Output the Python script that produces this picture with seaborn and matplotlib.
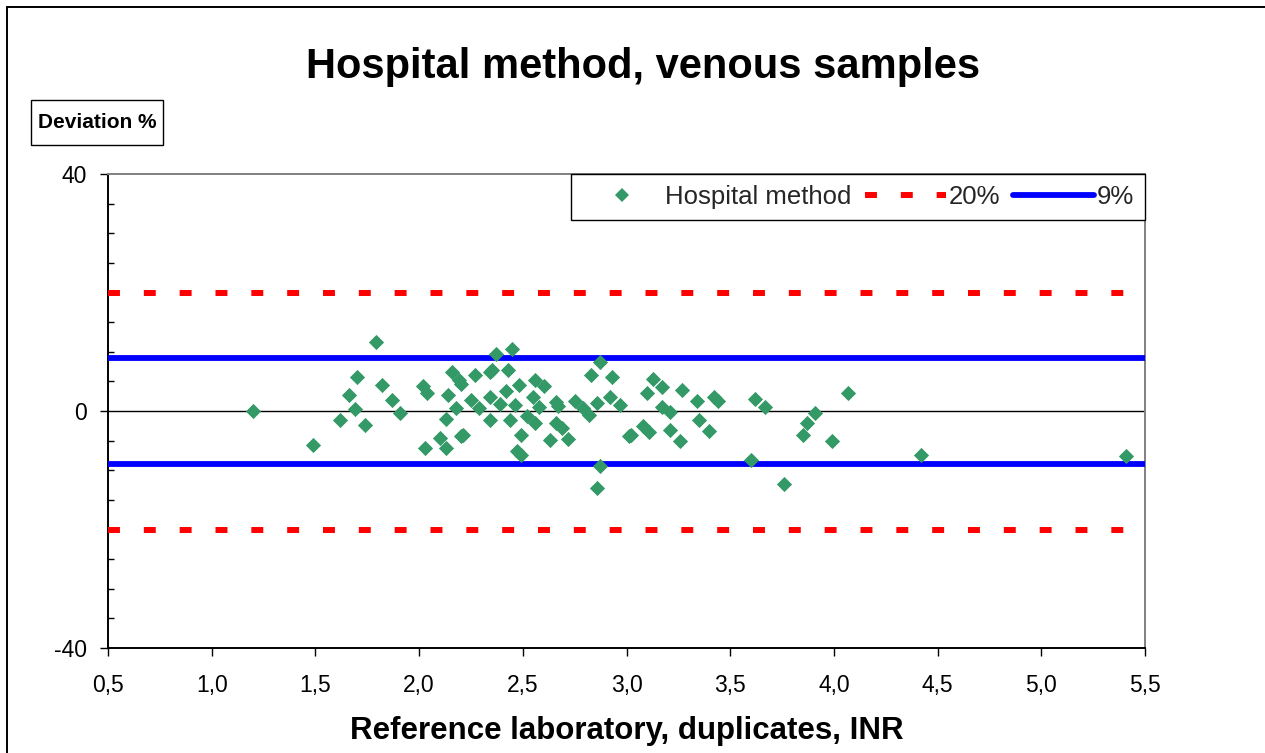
import matplotlib
matplotlib.use("Agg")
import matplotlib.pyplot as plt
import matplotlib.patches as mpatches
from matplotlib.lines import Line2D
from matplotlib.ticker import MultipleLocator, FixedLocator
import seaborn as sns
import pandas as pd

# ---------------- data ----------------
ref_inr = [1.20, 1.49, 1.79, 1.70, 1.66, 1.69, 1.62, 1.74, 1.82, 1.87, 1.91,
           2.02, 2.04, 2.16, 2.19, 2.20, 2.14, 2.18, 2.13, 2.10, 2.03, 2.13,
           2.20, 2.21, 2.37, 2.45, 2.27, 2.34, 2.35, 2.43, 2.25, 2.29, 2.34,
           2.39, 2.42, 2.48, 2.56, 2.60, 2.34, 2.44, 2.46, 2.55, 2.58, 2.52,
           2.56, 2.49, 2.47, 2.49, 2.66, 2.67, 2.66, 2.69, 2.63, 2.72, 2.75,
           2.79, 2.82, 2.86, 2.83, 2.87, 2.93, 2.92, 2.97, 2.87, 2.86, 3.02,
           3.01, 3.08, 3.11, 3.10, 3.13, 3.17, 3.17, 3.21, 3.21, 3.26, 3.27,
           3.34, 3.35, 3.40, 3.42, 3.44, 3.62, 3.67, 3.60, 3.76, 3.91, 3.87,
           3.85, 3.99, 4.07, 4.42, 5.41]
deviation = [0.0, -5.7, 11.7, 5.7, 2.7, 0.4, -1.6, -2.3, 4.4, 1.8, -0.3,
             4.2, 3.1, 6.6, 5.3, 4.6, 2.7, 0.5, -1.4, -4.6, -6.3, -6.3,
             -4.3, -4.0, 9.7, 10.4, 6.1, 6.6, 6.9, 7.0, 1.8, 0.5, 2.3,
             1.1, 3.4, 4.4, 5.3, 4.2, -1.6, -1.6, 1.0, 2.4, 0.6, -0.9,
             -2.0, -4.0, -6.8, -7.5, 1.6, 0.9, -2.0, -2.8, -4.9, -4.7, 1.7,
             0.5, -0.7, 1.4, 6.1, 8.2, 5.7, 2.3, 1.0, -9.3, -13.0, -4.0,
             -4.2, -2.6, -3.6, 3.1, 5.4, 4.1, 0.7, -0.2, -3.2, -5.0, 3.6,
             1.7, -1.6, -3.3, 2.4, 1.7, 2.1, 0.6, -8.3, -12.3, -0.3, -2.0,
             -4.0, -5.0, 3.1, -7.4, -7.6]

limit_20 = [20, -20]
limit_9 = [9, -9]
series_labels = ["Hospital method", "20%", "9%"]
x_ticks = [0.5, 1.0, 1.5, 2.0, 2.5, 3.0, 3.5, 4.0, 4.5, 5.0, 5.5]
x_tick_labels = ["0,5", "1,0", "1,5", "2,0", "2,5", "3,0", "3,5", "4,0", "4,5", "5,0", "5,5"]
y_ticks = [-40, 0, 40]
y_tick_labels = ["-40", "0", "40"]

df = pd.DataFrame({"ref": ref_inr, "dev": deviation})

# ---------------- style ----------------
sns.set_theme(style="white")
plt.rcParams["font.family"] = ["Liberation Sans", "DejaVu Sans"]
plt.rcParams["axes.unicode_minus"] = False

W, H = 1265, 753
fig = plt.figure(figsize=(W / 100, H / 100), dpi=100)
fig.patch.set_facecolor("white")

L, R, T, B = 108, 1145, 174, 648
ax = fig.add_axes([L / W, 1 - B / H, (R - L) / W, (B - T) / H])

GREEN = "#339966"
sns.scatterplot(data=df, x="ref", y="dev", marker="D", color=GREEN, s=60,
                linewidth=0, ax=ax, zorder=5, label=series_labels[0], legend=False)

for v in limit_20:
    ax.axhline(v, color="#FF0000", lw=4.3, linestyle=(0, (2, 4)),
               dash_capstyle="butt", zorder=3)
for v in limit_9:
    ax.axhline(v, color="#0000FF", lw=4.2, solid_capstyle="butt", zorder=3)
ax.axhline(0, color="black", lw=1.0, zorder=2)

ax.set_xlim(0.5, 5.5)
ax.set_ylim(-40, 40)
ax.xaxis.set_major_locator(FixedLocator(x_ticks))
ax.set_xticklabels(x_tick_labels)
ax.yaxis.set_major_locator(FixedLocator(y_ticks))
ax.set_yticklabels(y_tick_labels)
ax.yaxis.set_minor_locator(MultipleLocator(5))

ax.tick_params(axis="both", which="major", direction="out", length=6,
               width=1.0, color="black", labelsize=16.5, labelcolor="black")
ax.tick_params(axis="x", which="major", pad=13, bottom=True)
ax.tick_params(axis="y", which="major", pad=9, left=True)
ax.tick_params(axis="y", which="minor", direction="in", length=4.5,
               width=1.0, color="black", left=True)

for side in ["left", "bottom"]:
    ax.spines[side].set_color("black")
    ax.spines[side].set_linewidth(1.4)
for side in ["top", "right"]:
    ax.spines[side].set_color("#808080")
    ax.spines[side].set_linewidth(1.4)
ax.grid(False)

ax.set_xlabel("Reference laboratory, duplicates, INR", fontsize=22.5,
              fontweight="bold", color="black")
ax.xaxis.label.set_va("baseline")
ax.xaxis.set_label_coords((627 - L) / (R - L), -(739 - B) / (B - T))
ax.set_ylabel("")

# legend
handles = [
    Line2D([], [], marker="D", color=GREEN, linestyle="none", markersize=7.5,
           markeredgewidth=0),
    Line2D([], [], color="#FF0000", lw=4.3, linestyle=(0, (2, 4))),
    Line2D([], [], color="#0000FF", lw=4.2),
]
leg = ax.legend(handles, series_labels, ncol=3, loc="upper right",
                bbox_to_anchor=(R / W, 1 - T / H), bbox_transform=fig.transFigure,
                fontsize=18.5, frameon=True, fancybox=False, borderaxespad=0,
                handlelength=3.15, handletextpad=0.12, columnspacing=0.5,
                borderpad=0.42, numpoints=1)
leg.get_frame().set_edgecolor("black")
leg.get_frame().set_linewidth(1.0)
leg.get_frame().set_facecolor("white")
leg.get_frame().set_alpha(1)

# title
fig.text(643.5 / W, 1 - 78 / H, "Hospital method, venous samples",
         ha="center", va="baseline", fontsize=30, fontweight="bold", color="black")

# y-axis caption box
fig.patches.append(mpatches.Rectangle((31 / W, 1 - 145 / H), 132 / W, 45 / H,
                                      transform=fig.transFigure, fill=True,
                                      facecolor="white", edgecolor="black",
                                      linewidth=1.0, zorder=1))
fig.text(97 / W, 1 - 122.5 / H, "Deviation %", ha="center", va="center",
         fontsize=15, fontweight="bold", color="black", zorder=2)

# outer chart frame
fig.patches.append(mpatches.Rectangle((7 / W, -0.1), 1.2, 1 - 7 / H + 0.1,
                                      transform=fig.transFigure, fill=False,
                                      edgecolor="black", linewidth=1.4, zorder=0))

fig.savefig("out.png", dpi=100, facecolor="white")
